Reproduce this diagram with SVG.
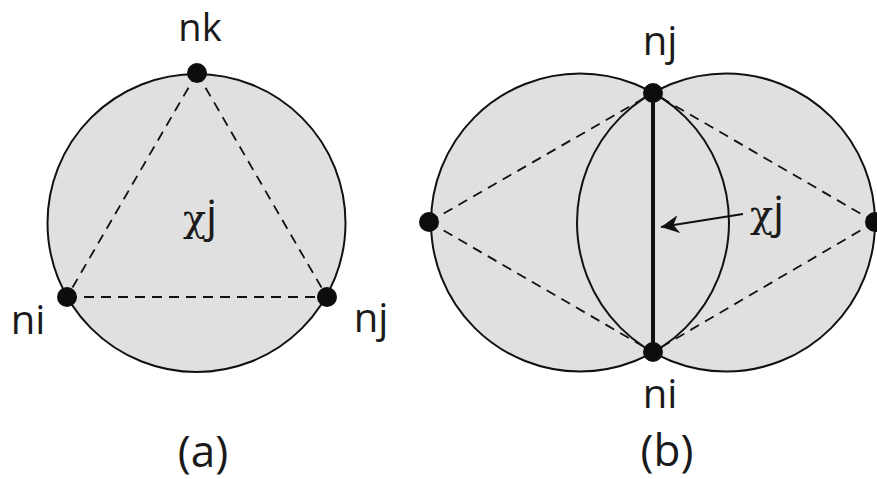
<svg xmlns="http://www.w3.org/2000/svg" width="877" height="479" viewBox="0 0 877 479">
<defs>
<style>
.fill{fill:#e0e0e0;stroke:none}
.ring{fill:none;stroke:#111;stroke-width:2}
.dash{fill:none;stroke:#111;stroke-width:1.8;stroke-dasharray:10 7}
.dot{fill:#0d0d0d}
.lbl{font-family:"Open Sans","Noto Sans",sans-serif;font-size:40px;fill:#1a1a1a;text-anchor:middle}
.cap{font-family:"Open Sans","Noto Sans",sans-serif;font-size:44px;fill:#1a1a1a;text-anchor:middle}
.sym{font-family:"Open Sans","Noto Sans",sans-serif;font-size:44px;fill:#1a1a1a;text-anchor:middle}
.chi{font-family:"DejaVu Serif","Liberation Serif",serif;font-size:38px}
</style>
<marker id="ah" viewBox="0 0 10 10" refX="10" refY="5" markerWidth="18" markerHeight="18" markerUnits="userSpaceOnUse" orient="auto">
<path d="M0,0 L10,5 L0,10 L3,5 Z" fill="#111"/>
</marker>
</defs>
<rect width="877" height="479" fill="#fff"/>

<g id="panel-a">
<circle class="fill" cx="196.5" cy="223" r="149"/>
<circle class="ring" cx="196.5" cy="223" r="149"/>
</g>

<g id="panel-b">
<circle class="fill" cx="580" cy="222.5" r="149"/>
<circle class="fill" cx="726" cy="222.5" r="149"/>
<circle class="ring" cx="580" cy="222.5" r="149"/>
<circle class="ring" cx="726" cy="222.5" r="149"/>
</g>

<g id="connectors">
<line class="dash" x1="197" y1="73" x2="67" y2="297"/>
<line class="dash" x1="197" y1="73" x2="327" y2="297"/>
<line class="dash" x1="67" y1="297" x2="327" y2="297"/>
<line class="dash" x1="429" y1="222" x2="653" y2="93"/>
<line class="dash" x1="429" y1="222" x2="653" y2="352"/>
<line class="dash" x1="875" y1="222" x2="653" y2="93"/>
<line class="dash" x1="875" y1="222" x2="653" y2="352"/>
<line x1="653" y1="93" x2="653" y2="352" stroke="#111" stroke-width="4"/>
<line x1="743" y1="214" x2="661" y2="227" stroke="#111" stroke-width="2" marker-end="url(#ah)"/>
</g>

<g id="node-a-nk"><circle class="dot" cx="197" cy="73" r="10"/><text class="lbl" x="200" y="41" style="font-size:38px">nk</text></g>
<g id="node-a-ni"><circle class="dot" cx="67" cy="297" r="10"/><text class="lbl" x="28" y="334">ni</text></g>
<g id="node-a-nj"><circle class="dot" cx="327" cy="297" r="10"/><text class="lbl" x="371" y="332">nj</text></g>
<g id="label-a-chi"><text class="sym" x="200" y="231"><tspan class="chi">χ</tspan>j</text></g>
<g id="caption-a"><text class="cap" x="203" y="467">(a)</text></g>

<g id="node-b-nj"><circle class="dot" cx="653" cy="93" r="10"/><text class="lbl" x="660" y="55">nj</text></g>
<g id="node-b-ni"><circle class="dot" cx="653" cy="352" r="10"/><text class="lbl" x="660" y="408">ni</text></g>
<g id="node-b-left"><circle class="dot" cx="429" cy="222" r="10"/></g>
<g id="node-b-right"><circle class="dot" cx="875" cy="222" r="10"/></g>
<g id="label-b-chi"><text class="sym" x="767" y="227"><tspan class="chi">χ</tspan>j</text></g>
<g id="caption-b"><text class="cap" x="667" y="466">(b)</text></g>
</svg>
